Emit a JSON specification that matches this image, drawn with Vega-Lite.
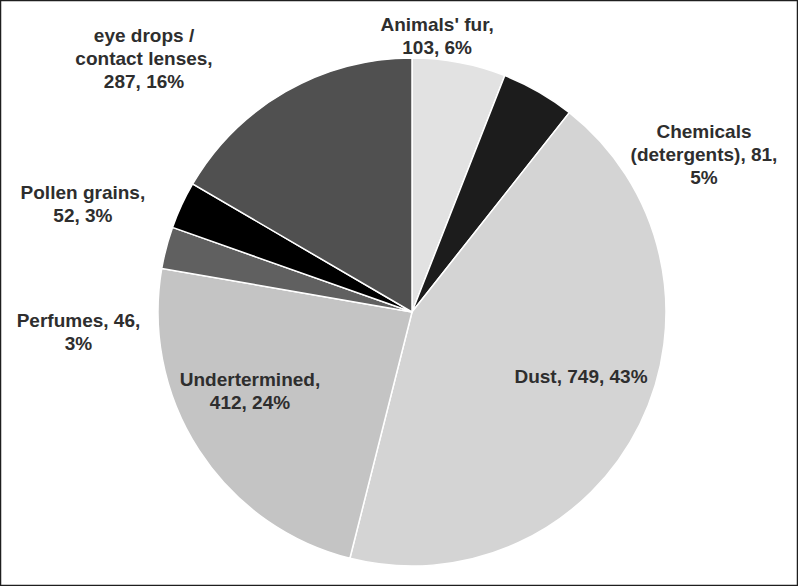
{
  "$schema": "https://vega.github.io/schema/vega-lite/v6.json",
  "width": 798,
  "height": 586,
  "autosize": {"type": "none"},
  "padding": 0,
  "background": "white",
  "config": {"view": {"stroke": null}},
  "layer": [
    {
      "data": {
        "values": [
          {"idx": 1, "name": "Animals' fur", "count": 103, "label": "Animals' fur,\n103, 6%"},
          {"idx": 2, "name": "Chemicals (detergents)", "count": 81, "label": "Chemicals\n(detergents), 81,\n5%"},
          {"idx": 3, "name": "Dust", "count": 749, "label": "Dust, 749, 43%"},
          {"idx": 4, "name": "Undertermined", "count": 412, "label": "Undertermined,\n412, 24%"},
          {"idx": 5, "name": "Perfumes", "count": 46, "label": "Perfumes, 46,\n3%"},
          {"idx": 6, "name": "Pollen grains", "count": 52, "label": "Pollen grains,\n52, 3%"},
          {"idx": 7, "name": "eye drops / contact lenses", "count": 287, "label": "eye drops /\ncontact lenses,\n287, 16%"}
        ]
      },
      "encoding": {
        "theta": {"field": "count", "type": "quantitative", "stack": true},
        "order": {"field": "idx", "type": "quantitative"},
        "detail": {"field": "name", "type": "nominal"}
      },
      "layer": [
        {
          "mark": {"type": "arc", "outerRadius": 254, "stroke": "white", "strokeWidth": 1.5, "xOffset": 13, "yOffset": 19},
          "encoding": {
            "color": {
              "field": "name",
              "type": "nominal",
              "legend": null,
              "scale": {
                "domain": ["Animals' fur", "Chemicals (detergents)", "Dust", "Undertermined", "Perfumes", "Pollen grains", "eye drops / contact lenses"],
                "range": ["#e2e2e2", "#1c1c1c", "#d4d4d4", "#c4c4c4", "#606060", "#000000", "#505050"]
              }
            }
          }
        },
        {
          "mark": {"type": "text", "radius": 175, "dx": 25, "dy": 6.5, "font": "Liberation Sans", "fontWeight": "bold", "fontSize": 19, "lineBreak": "\n", "lineHeight": 23, "align": "center", "baseline": "middle", "fill": "#2e2e2e"},
          "encoding": {"text": {"condition": {"test": "datum.name === 'Dust'", "field": "label"}, "value": ""}}
        },
        {
          "mark": {"type": "text", "radius": 170, "dx": -6.4, "dy": -5.6, "font": "Liberation Sans", "fontWeight": "bold", "fontSize": 19, "lineBreak": "\n", "lineHeight": 23, "align": "center", "baseline": "middle", "fill": "#2e2e2e"},
          "encoding": {"text": {"condition": {"test": "datum.name === 'Undertermined'", "field": "label"}, "value": ""}}
        },
        {
          "mark": {"type": "text", "radius": 275, "dx": -13, "dy": 2.5, "font": "Liberation Sans", "fontWeight": "bold", "fontSize": 19, "lineBreak": "\n", "lineHeight": 23, "align": "center", "baseline": "middle", "fill": "#2e2e2e"},
          "encoding": {"text": {"condition": {"test": "datum.name === \"Animals' fur\"", "field": "label"}, "value": ""}}
        },
        {
          "mark": {"type": "text", "radius": 290, "dx": 160.6, "dy": 90, "font": "Liberation Sans", "fontWeight": "bold", "fontSize": 19, "lineBreak": "\n", "lineHeight": 23, "align": "center", "baseline": "middle", "fill": "#2e2e2e"},
          "encoding": {"text": {"condition": {"test": "datum.name === 'Chemicals (detergents)'", "field": "label"}, "value": ""}}
        },
        {
          "mark": {"type": "text", "radius": 290, "dx": -40, "dy": 101.5, "font": "Liberation Sans", "fontWeight": "bold", "fontSize": 19, "lineBreak": "\n", "lineHeight": 23, "align": "center", "baseline": "middle", "fill": "#2e2e2e"},
          "encoding": {"text": {"condition": {"test": "datum.name === 'Perfumes'", "field": "label"}, "value": ""}}
        },
        {
          "mark": {"type": "text", "radius": 290, "dx": -53, "dy": 21.9, "font": "Liberation Sans", "fontWeight": "bold", "fontSize": 19, "lineBreak": "\n", "lineHeight": 23, "align": "center", "baseline": "middle", "fill": "#2e2e2e"},
          "encoding": {"text": {"condition": {"test": "datum.name === 'Pollen grains'", "field": "label"}, "value": ""}}
        },
        {
          "mark": {"type": "text", "radius": 290, "dx": -110.6, "dy": -5.5, "font": "Liberation Sans", "fontWeight": "bold", "fontSize": 19, "lineBreak": "\n", "lineHeight": 23, "align": "center", "baseline": "middle", "fill": "#2e2e2e"},
          "encoding": {"text": {"condition": {"test": "datum.name === 'eye drops / contact lenses'", "field": "label"}, "value": ""}}
        }
      ]
    },
    {
      "data": {"values": [{"frame": "border"}]},
      "mark": {"type": "rect", "fill": null, "fillOpacity": 0, "stroke": "#1e1e1e", "strokeWidth": 2.5},
      "encoding": {}
    }
  ]
}
